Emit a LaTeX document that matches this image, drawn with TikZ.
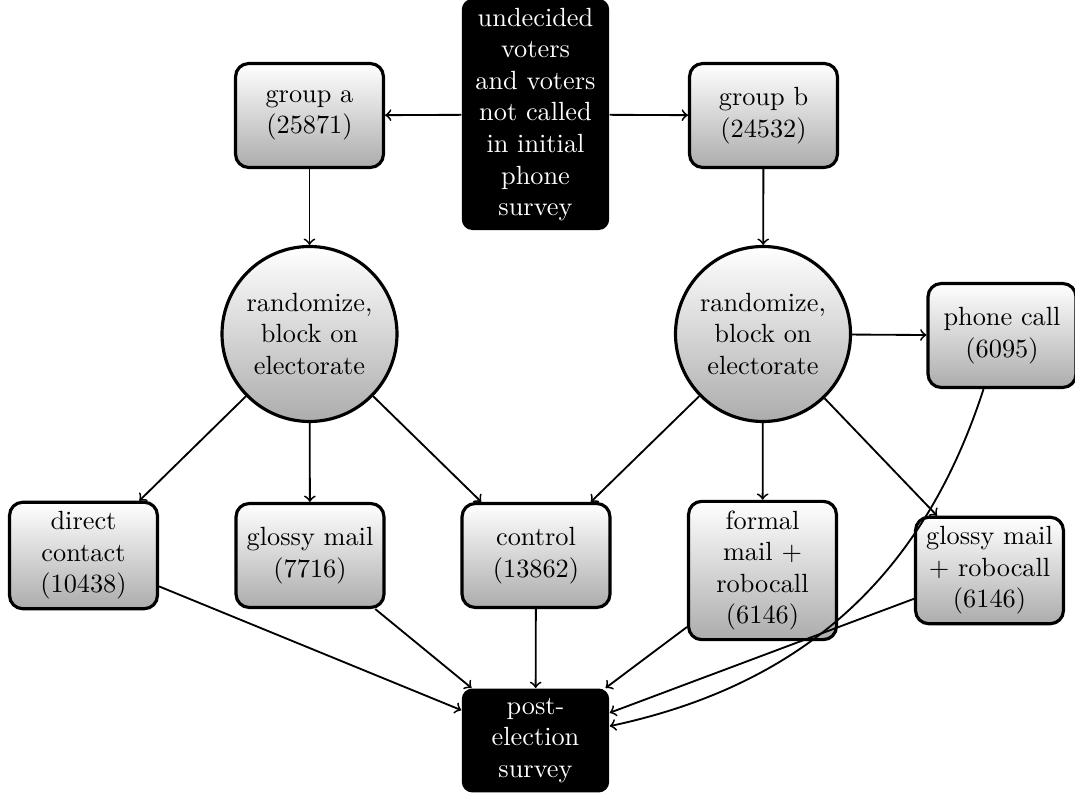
\documentclass[tikz,border=0pt]{standalone}
\begin{document}
\begin{tikzpicture}[x=0.38pt,y=0.38pt,
  box/.style={draw=black, line width=1.2pt, rounded corners=5pt, top color=white, bottom color=gray!65,
    text width=49.2pt, align=center, inner sep=3.5pt, minimum width=56pt, minimum height=39.5pt},
  dark/.style={fill=black, text=white, rounded corners=4pt, text width=49.2pt, align=center,
    inner sep=3.4pt, minimum width=56pt, minimum height=39.5pt},
  rnd/.style={circle, draw=black, line width=1.2pt, top color=white, bottom color=gray!65,
    text width=49.2pt, align=center, inner sep=0pt, minimum size=66.5pt},
  conn/.style={->, line width=0.7pt}]
\useasboundingbox (0,0) rectangle (1075,-796);
\node[dark] (top) at (535.5,-114.5) {undecided voters and voters not called in initial phone survey};
\node[box] (ga) at (309.5,-115.5) {group a (25871)};
\node[box] (gb) at (763.5,-115.5) {group b (24532)};
\node[rnd] (cl) at (309.5,-334) {randomize, block on electorate};
\node[rnd] (cr) at (763,-334) {randomize, block on electorate};
\node[box] (phone) at (1002,-335.5) {phone call (6095)};
\node[box] (dc) at (83.5,-555.5) {direct contact (10438)};
\node[box] (gm) at (310,-555.5) {glossy mail (7716)};
\node[box] (ctl) at (536,-555.5) {control (13862)};
\node[box] (fm) at (762.5,-570.5) {formal mail + robocall (6146)};
\node[box] (gr) at (989.5,-570.5) {glossy mail + robocall (6146)};
\node[dark] (post) at (535.5,-740.5) {post-election survey};
\draw[conn] (top) -- (ga);
\draw[conn] (top) -- (gb);
\draw[conn] (ga) -- (cl);
\draw[conn] (gb) -- (cr);
\draw[conn] (cl) -- (dc);
\draw[conn] (cl) -- (gm);
\draw[conn] (cl) -- (ctl);
\draw[conn] (cr) -- (ctl);
\draw[conn] (cr) -- (fm);
\draw[conn] (cr) -- (gr);
\draw[conn] (cr) -- (phone);
\draw[conn] (dc) -- (post);
\draw[conn] (gm) -- (post);
\draw[conn] (ctl) -- (post);
\draw[conn] (fm) -- (post);
\draw[conn] (gr) -- (post);
\draw[conn] (phone) to[bend left=30] (post);
\end{tikzpicture}
\end{document}
